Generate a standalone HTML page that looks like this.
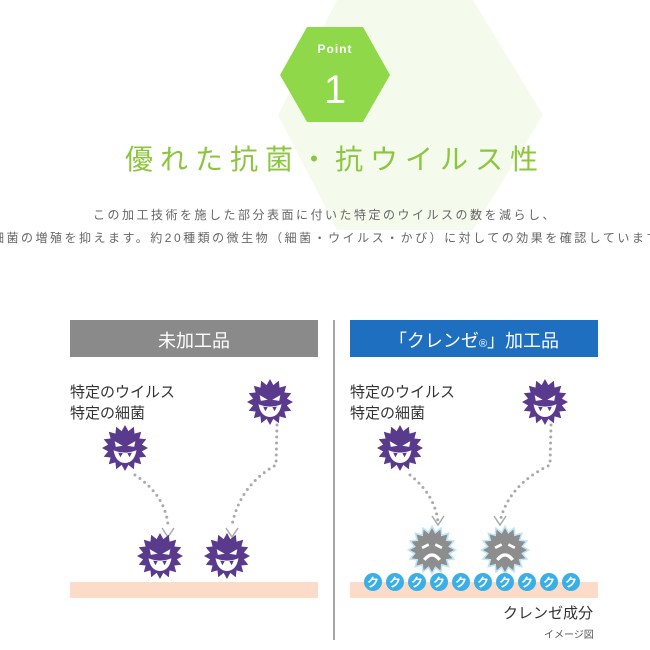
<!DOCTYPE html>
<html><head><meta charset="utf-8"><style>
body{margin:0;background:#fff;width:650px;height:650px;overflow:hidden;position:relative;font-family:"Liberation Sans","Noto Sans CJK JP",sans-serif}
.t{position:absolute;white-space:nowrap}
</style></head><body>
<svg width="650" height="650" style="position:absolute;left:0;top:0">
<defs>
<polygon id="st" points="20,0 14.7,2.93 18.5,7.65 12.5,8.3 14.1,14.1 8.3,12.5 7.65,18.5 2.93,14.7 0,20 -2.93,14.7 -7.65,18.5 -8.3,12.5 -14.1,14.1 -12.5,8.3 -18.5,7.65 -14.7,2.93 -20,0 -14.7,-2.93 -18.5,-7.65 -12.5,-8.3 -14.1,-14.1 -8.3,-12.5 -7.65,-18.5 -2.93,-14.7 0,-20 2.93,-14.7 7.65,-18.5 8.3,-12.5 14.1,-14.1 12.5,-8.3 18.5,-7.65 14.7,-2.93"/>
<g id="bad0"><use href="#st" fill="#5a3a8c"/>
<path d="M-9,-6 L-2,-2 L-8,-1 Z M9,-6 L2,-2 L8,-1 Z" fill="#fff"/>
<path d="M-10,2 Q0,6 10,2 Q8,13 0,13 Q-8,13 -10,2 Z" fill="#fff"/>
<path d="M-6,4 L-4,8 L-2,4.5 Z M6,4 L4,8 L2,4.5 Z" fill="#5a3a8c"/></g>
<g id="bad"><use href="#bad0" transform="scale(1.15)"/></g>
<g id="sad0"><use href="#st" fill="#bfe6f7" transform="scale(1.15)"/><use href="#st" fill="#8d8d8d"/>
<path d="M-9,-2 L-3,-5 M9,-2 L3,-5" stroke="#fff" stroke-width="2.5"/>
<path d="M-7,9 Q0,0 7,9" stroke="#fff" stroke-width="3" fill="none"/></g>
<g id="sad"><use href="#sad0" transform="scale(1.1)"/></g>
<g id="q"><circle r="9" fill="#3aaee6"/><text y="4.5" text-anchor="middle" font-size="12" fill="#fff" font-weight="bold">ク</text></g>
</defs>
<polygon points="337,0 473,0 543,115 473,230 337,230 278,115" fill="#f4fbec"/>
<polygon points="307,27 363,27 390,75 363,122 307,122 280,75" fill="#8ed84a"/>
<text x="335" y="53" text-anchor="middle" font-size="12" font-weight="bold" fill="#fff" letter-spacing="1">Point</text>
<text x="335" y="103" text-anchor="middle" font-size="40" fill="#fff">1</text>
<rect x="70" y="320" width="248" height="37" fill="#8a8a8a"/>
<rect x="350" y="320" width="248" height="37" fill="#1e6fc0"/>
<line x1="334" y1="320" x2="334" y2="640" stroke="#888" stroke-width="1.5"/>
<rect x="70" y="582" width="248" height="16" fill="#fcdcc8"/>
<rect x="350" y="582" width="248" height="16" fill="#fcdcc8"/>
<g stroke="#aaa" stroke-width="3" stroke-linecap="round" stroke-dasharray="0 6" fill="none">
<path d="M135,475 Q165,495 168,525"/><path d="M277,425 L276,465 Q240,485 232,525"/>
<path d="M410,475 Q435,495 438,522"/><path d="M551,425 L550,465 Q508,485 500,522"/></g>
<g stroke="#aaa" stroke-width="1.5" fill="none">
<path d="M162,528 L168,537 L174,528"/><path d="M226,528 L232,537 L238,528"/>
<path d="M432,516 L438,525 L444,516"/><path d="M494,516 L500,525 L506,516"/></g>
<use href="#bad" transform="translate(125,448)"/><use href="#bad" transform="translate(270,402)"/>
<use href="#bad" transform="translate(160,556)"/><use href="#bad" transform="translate(227,556)"/>
<use href="#bad" transform="translate(400,448)"/><use href="#bad" transform="translate(545,402)"/>
<use href="#sad" transform="translate(432,550)"/><use href="#sad" transform="translate(505,550)"/>
<use href="#q" transform="translate(373,582)"/><use href="#q" transform="translate(395,582)"/><use href="#q" transform="translate(417,582)"/><use href="#q" transform="translate(439,582)"/><use href="#q" transform="translate(461,582)"/><use href="#q" transform="translate(483,582)"/><use href="#q" transform="translate(505,582)"/><use href="#q" transform="translate(527,582)"/><use href="#q" transform="translate(549,582)"/><use href="#q" transform="translate(571,582)"/>
</svg>
<div class="t" style="left:125px;top:138px;font-size:28px;letter-spacing:7px;color:#8cc63f">優れた抗菌・抗ウイルス性</div>
<div class="t" style="left:0;width:650px;text-align:center;top:206px;font-size:12px;letter-spacing:2.5px;color:#666">この加工技術を施した部分表面に付いた特定のウイルスの数を減らし、</div>
<div class="t" style="left:-8px;top:229px;font-size:12px;letter-spacing:2.5px;color:#666">細菌の増殖を抑えます。約20種類の微生物（細菌・ウイルス・かび）に対しての効果を確認しています。</div>
<div class="t" style="left:70px;width:248px;text-align:center;top:327px;font-size:18px;color:#fff">未加工品</div>
<div class="t" style="left:350px;width:248px;text-align:center;top:327px;font-size:18px;color:#fff">「クレンゼ<span style="font-size:11px">®</span>」加工品</div>
<div class="t" style="left:70px;top:382px;font-size:15px;line-height:21px;color:#333">特定のウイルス<br>特定の細菌</div>
<div class="t" style="left:350px;top:382px;font-size:15px;line-height:21px;color:#333">特定のウイルス<br>特定の細菌</div>
<div class="t" style="left:503px;top:602px;font-size:15px;color:#333">クレンゼ成分</div>
<div class="t" style="left:544px;top:626px;font-size:10px;color:#555">イメージ図</div>
</body></html>
